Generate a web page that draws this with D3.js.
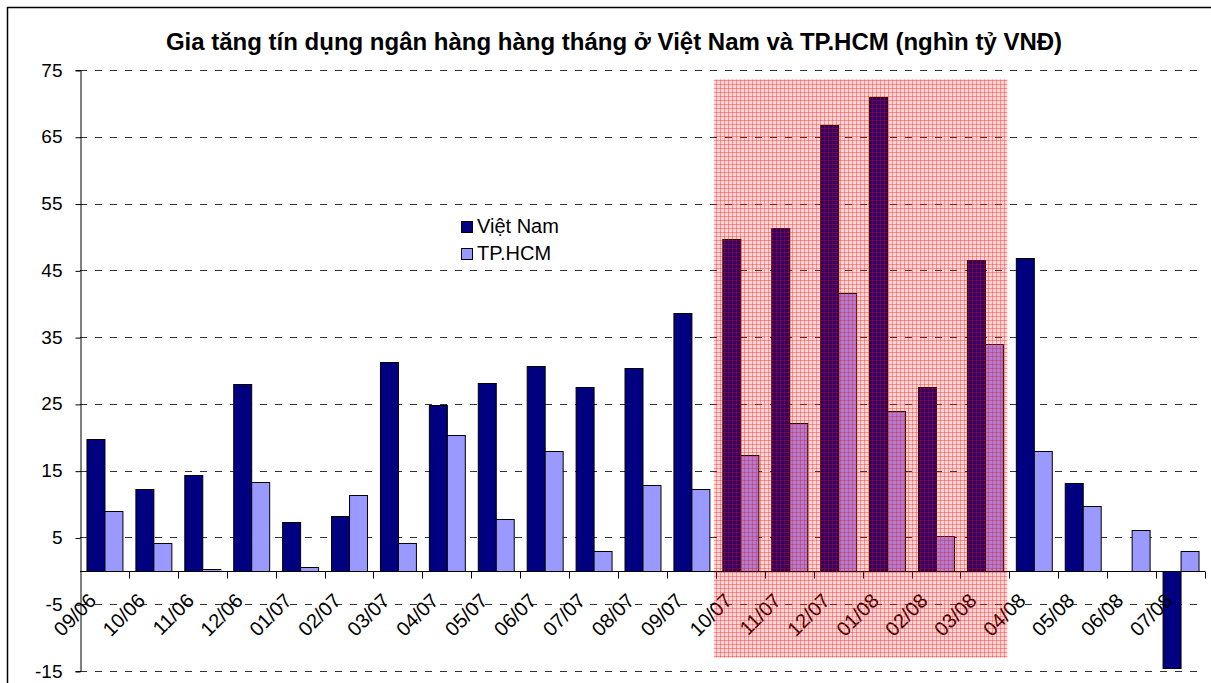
<!DOCTYPE html>
<html>
<head>
<meta charset="utf-8">
<script src="https://cdn.jsdelivr.net/npm/d3@7"></script>
<style>
  body { margin: 0; background: #fff; }
  text { font-family: "Liberation Sans", Arial, sans-serif; }
</style>
</head>
<body>
<svg id="chart" width="1211" height="683"></svg>
<script>
// Dữ liệu tín dụng hàng tháng (nghìn tỷ VNĐ)
const thang = ["09/06","10/06","11/06","12/06","01/07","02/07","03/07","04/07","05/07","06/07","07/07","08/07",
  "09/07","10/07","11/07","12/07","01/08","02/08","03/08","04/08","05/08","06/08","07/08"];
const vietNam = [19.8, 12.2, 14.4, 28.0, 7.3, 8.2, 31.3, 24.9, 28.1, 30.7, 27.5, 30.3,
  38.6, 49.7, 51.4, 66.7, 70.9, 27.5, 46.6, 46.9, 13.1, 0, -14.6];
const tpHCM = [9.0, 4.1, 0.2, 13.3, 0.6, 11.3, 4.2, 20.3, 7.7, 17.9, 2.9, 12.9,
  12.2, 17.3, 22.2, 41.6, 23.9, 5.2, 33.9, 17.9, 9.7, 6.1, 2.9];
const yTicks = [75, 65, 55, 45, 35, 25, 15, 5, -5, -15];
const vungNoiBat = ["10/07", "03/08"];
const seriesNames = ["Việt Nam", "TP.HCM"];
const seriesColors = ["#000080", "#9999ff"];

const svg = d3.select("#chart");

// khung ngoài
svg.append("rect")
  .attr("x", 7.5).attr("y", 7.5)
  .attr("width", 1215).attr("height", 690)
  .attr("fill", "none").attr("stroke", "#000").attr("stroke-width", 1.5);

svg.append("text")
  .attr("x", 614).attr("y", 50)
  .attr("text-anchor", "middle")
  .attr("font-weight", "bold")
  .attr("font-size", 24)
  .text("Gia tăng tín dụng ngân hàng hàng tháng ở Việt Nam và TP.HCM (nghìn tỷ VNĐ)");

const x = d3.scaleBand().domain(thang).range([80, 1205]).padding(0);
const x1 = d3.scaleBand().domain([0, 1]).range([0, x.bandwidth()]).paddingInner(0).paddingOuter(0.36);
const y = d3.scaleLinear().domain([-15, 75]).range([671, 70]);

// lưới ngang
svg.append("g")
  .selectAll("line")
  .data(yTicks)
  .join("line")
  .attr("x1", 80).attr("x2", 1205)
  .attr("y1", d => Math.round(y(d)) + 0.5).attr("y2", d => Math.round(y(d)) + 0.5)
  .attr("stroke", "#333")
  .attr("stroke-dasharray", "7,8");

// trục y
const yAxis = svg.append("g")
  .attr("transform", "translate(80.5,0)")
  .call(d3.axisLeft(y).tickValues(yTicks).tickSize(5).tickPadding(13).tickFormat(d => String(d)));
yAxis.select(".domain").attr("stroke", "#000");
yAxis.selectAll(".tick text").attr("font-size", 19).attr("fill", "#000").style("font-family", "Liberation Sans, Arial, sans-serif");
yAxis.selectAll(".tick line").attr("transform", "translate(0,0.5)");

// cột
const groups = svg.append("g")
  .selectAll("g")
  .data(thang.map((t, i) => ({ t, v: [vietNam[i], tpHCM[i]] })))
  .join("g")
  .attr("transform", d => `translate(${x(d.t)},0)`);

groups.selectAll("rect")
  .data(d => d.v.map((v, k) => ({ v, k })).filter(e => e.v !== 0))
  .join("rect")
  .attr("x", d => x1(d.k) + 0.5)
  .attr("width", x1.bandwidth())
  .attr("y", d => Math.round(y(Math.max(0, d.v))) + 0.5)
  .attr("height", d => Math.abs(Math.round(y(d.v)) - Math.round(y(0))))
  .attr("fill", d => seriesColors[d.k])
  .attr("stroke", "#000")
  .attr("stroke-width", 1);

// trục x
const y0 = Math.round(y(0)) + 0.5;
svg.append("line")
  .attr("x1", 80).attr("x2", 1205)
  .attr("y1", y0).attr("y2", y0)
  .attr("stroke", "#000");
svg.append("g")
  .selectAll("line")
  .data(thang)
  .join("line")
  .attr("x1", d => Math.round(x(d) + x.bandwidth()) + 0.5)
  .attr("x2", d => Math.round(x(d) + x.bandwidth()) + 0.5)
  .attr("y1", y0).attr("y2", y0 + 7)
  .attr("stroke", "#000");

svg.append("g")
  .selectAll("text")
  .data(thang)
  .join("text")
  .attr("transform", d => `translate(${x(d) + x.bandwidth() / 2 - 7},602) rotate(-45)`)
  .attr("text-anchor", "end")
  .attr("font-size", 20)
  .text(d => d);

// vùng nổi bật (lưới đỏ)
const defs = svg.append("defs");
const pat = defs.append("pattern")
  .attr("id", "luoiDo")
  .attr("patternUnits", "userSpaceOnUse")
  .attr("width", 4).attr("height", 4);
pat.append("rect").attr("width", 4).attr("height", 4).attr("fill", "rgba(255,0,0,0.16)");
pat.append("rect").attr("x", 0).attr("y", 0).attr("width", 1).attr("height", 4).attr("fill", "rgba(255,0,0,0.33)");
pat.append("rect").attr("x", 0).attr("y", 0).attr("width", 4).attr("height", 1).attr("fill", "rgba(255,0,0,0.33)");

svg.append("rect")
  .attr("x", x(vungNoiBat[0]) - 2)
  .attr("y", y(73.6))
  .attr("width", x(vungNoiBat[1]) + x.bandwidth() - x(vungNoiBat[0]))
  .attr("height", y(-13) - y(73.6))
  .attr("fill", "url(#luoiDo)");

// chú giải
const legend = svg.append("g").attr("transform", "translate(461,221)");
seriesNames.forEach((name, i) => {
  const g = legend.append("g").attr("transform", `translate(0,${i * 27})`);
  g.append("rect")
    .attr("x", 0.5).attr("y", 0.5)
    .attr("width", 11).attr("height", 11)
    .attr("fill", seriesColors[i]).attr("stroke", "#000");
  g.append("text")
    .attr("x", 16).attr("y", 12)
    .attr("font-size", 20)
    .text(name);
});
</script>
</body>
</html>
